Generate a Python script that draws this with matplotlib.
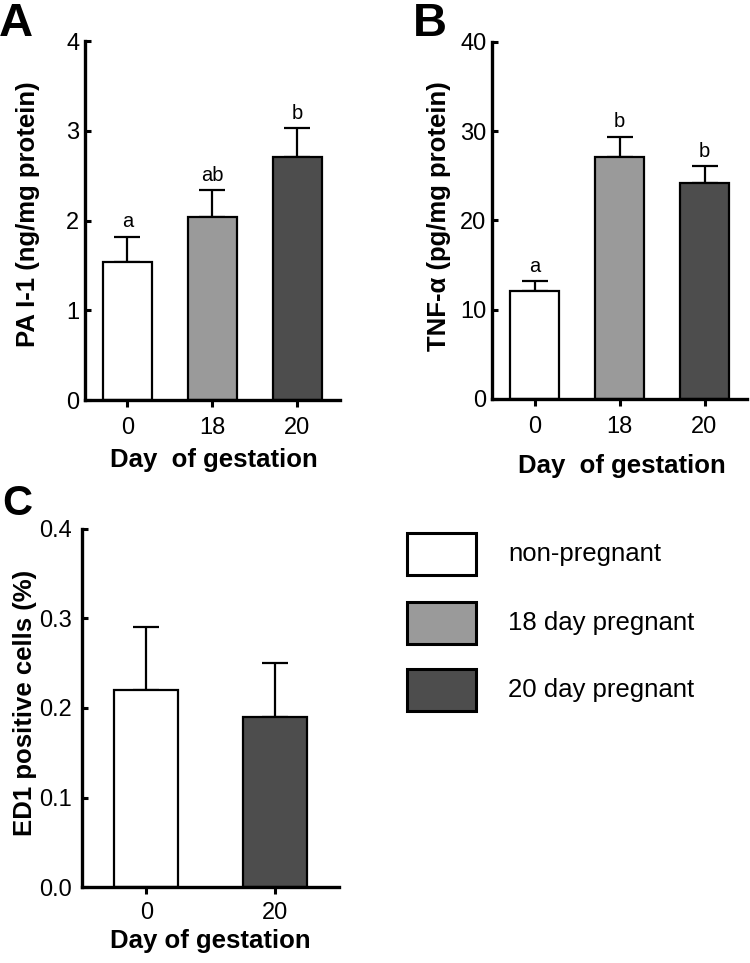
import matplotlib
matplotlib.use("Agg")
import matplotlib.pyplot as plt
from matplotlib.patches import Rectangle

plt.rcParams['font.family'] = ['Liberation Sans', 'DejaVu Sans']

# Data
days_ab = ["0", "18", "20"]
pai1_mean = [1.54, 2.04, 2.71]
pai1_err = [0.28, 0.30, 0.32]
pai1_sig = ["a", "ab", "b"]

tnf_mean = [12.1, 27.1, 24.2]
tnf_err = [1.1, 2.3, 1.9]
tnf_sig = ["a", "b", "b"]

days_c = ["0", "20"]
ed1_mean = [0.22, 0.19]
ed1_err = [0.07, 0.06]

colors3 = ["#ffffff", "#9a9a9a", "#4d4d4d"]
colors_c = ["#ffffff", "#4d4d4d"]
legend_labels = ["non-pregnant", "18 day pregnant", "20 day pregnant"]

fig = plt.figure(figsize=(7.5, 9.63), dpi=100)


def draw_panel(ax, labels, means, errs, colors, width, ylim, yticks, ylabel,
               xlabel, ylab_xy, xlab_xy, ypad, xpad, sig=None, sig_off=0.0,
               yfmt=None):
    x = list(range(len(labels)))
    ax.bar(x, means, width=width, color=colors, edgecolor="black",
           linewidth=1.6, zorder=2)
    ax.errorbar(x, means, yerr=[[0] * len(means), errs], fmt="none",
                ecolor="black", elinewidth=1.6, capsize=9.5, capthick=1.6,
                zorder=1)
    if sig:
        for xi, m, e, s in zip(x, means, errs, sig):
            ax.text(xi, m + e + sig_off, s, ha="center", va="bottom",
                    fontsize=14.5)
    ax.set_xlim(-0.5, len(labels) - 0.5)
    ax.set_ylim(*ylim)
    ax.set_yticks(yticks)
    if yfmt:
        ax.set_yticklabels([yfmt.format(v) for v in yticks])
    ax.set_xticks(x)
    ax.set_xticklabels(labels)
    ax.set_ylabel(ylabel, fontsize=18.5, fontweight="bold")
    ax.set_xlabel(xlabel, fontsize=18.5, fontweight="bold")
    ax.yaxis.set_label_coords(*ylab_xy)
    ax.xaxis.set_label_coords(*xlab_xy)
    for s in ["top", "right"]:
        ax.spines[s].set_visible(False)
    for s in ["left", "bottom"]:
        ax.spines[s].set_linewidth(2.4)
    ax.tick_params(axis="y", width=2.2, length=4, direction="in",
                   labelsize=17, pad=ypad)
    ax.tick_params(axis="x", width=2.2, length=5, direction="out",
                   labelsize=17, pad=xpad)


axA = fig.add_axes([0.1133, 0.5846, 0.34, 0.3728])
draw_panel(axA, days_ab, pai1_mean, pai1_err, colors3, 0.58, (0, 4),
           [0, 1, 2, 3, 4], "PA I-1 (ng/mg protein)", "Day  of gestation",
           ylab_xy=(-0.176, 0.518), xlab_xy=(0.504, -0.133), ypad=4,
           xpad=7.5, sig=pai1_sig, sig_off=0.06)

axB = fig.add_axes([0.656, 0.5857, 0.34, 0.3707])
draw_panel(axB, days_ab, tnf_mean, tnf_err, colors3, 0.58, (0, 40),
           [0, 10, 20, 30, 40], "TNF-α (pg/mg protein)", "Day  of gestation",
           ylab_xy=(-0.161, 0.513), xlab_xy=(0.508, -0.153), ypad=4,
           xpad=7.5, sig=tnf_sig, sig_off=0.6)

axC = fig.add_axes([0.1093, 0.0789, 0.3427, 0.3718])
draw_panel(axC, days_c, ed1_mean, ed1_err, colors_c, 0.5, (0, 0.4),
           [0.0, 0.1, 0.2, 0.3, 0.4], "ED1 positive cells (%)",
           "Day of gestation", ylab_xy=(-0.175, 0.513),
           xlab_xy=(0.5, -0.118), ypad=7, xpad=6, yfmt="{:.1f}")

# Legend (drawn manually in figure coordinates)
box_x0, box_w, box_h = 407 / 750, 69 / 750, 42 / 963
box_tops = [533, 602, 669]
for top, c, lab in zip(box_tops, colors3, legend_labels):
    y0 = 1 - (top + 42) / 963
    fig.patches.append(Rectangle((box_x0, y0), box_w, box_h,
                                 transform=fig.transFigure, facecolor=c,
                                 edgecolor="black", linewidth=2.2))
    fig.text(508 / 750, y0 + box_h / 2, lab, ha="left", va="center",
             fontsize=18.5)

# Panel letters
fig.text(-0.002, 1 - 36 / 963, "A", fontsize=34, fontweight="bold",
         va="baseline", ha="left")
fig.text(413 / 750, 1 - 36 / 963, "B", fontsize=34, fontweight="bold",
         va="baseline", ha="left")
fig.text(2 / 750, 1 - 515 / 963, "C", fontsize=30, fontweight="bold",
         va="baseline", ha="left")

fig.savefig("out.png", dpi=100)
